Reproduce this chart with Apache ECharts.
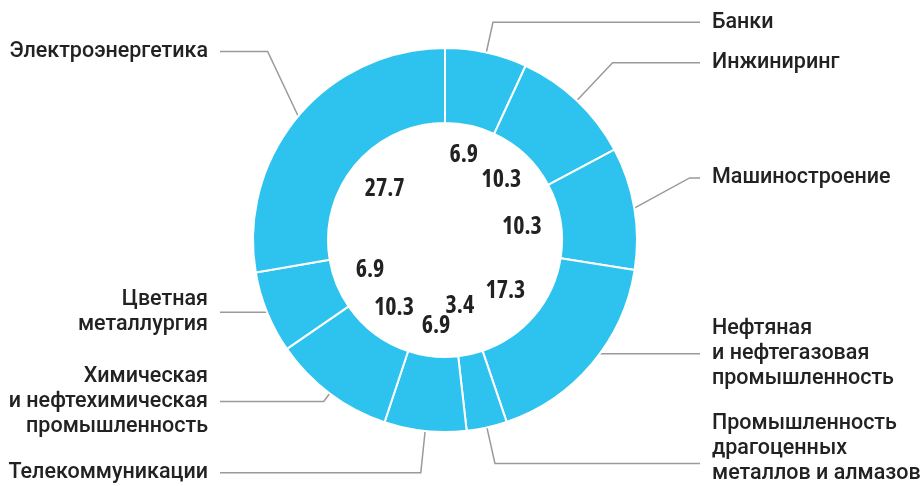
<!DOCTYPE html>
<html>
<head>
<meta charset="utf-8">
<script src="https://cdn.jsdelivr.net/npm/echarts@6/dist/echarts.min.js"></script>
<style>
html,body{margin:0;padding:0;background:#fff;}
#c{width:921px;height:486px;}
</style>
</head>
<body>
<div id="c"></div>
<script>
var categories = [
  'Банки',
  'Инжиниринг',
  'Машиностроение',
  'Нефтяная\nи нефтегазовая\nпромышленность',
  'Промышленность\nдрагоценных\nметаллов и алмазов',
  'Телекоммуникации',
  'Химическая\nи нефтехимическая\nпромышленность',
  'Цветная\nметаллургия',
  'Электроэнергетика'
];
var values = [6.9, 10.3, 10.3, 17.3, 3.4, 6.9, 10.3, 6.9, 27.7];

// label styling per slice: radial leader length, elbow lift, text shift, value-label radius
var leaderLen  = [31, 52, 56, 3, 37, 42, 10, 0, 40];
var leaderLift = [0, 0, -21, -12, 0, 0, 0, 0, -39];
var textShift  = [0, 0, 0, 0, -15, 0, 0, 0, 0];
var valueRad   = [87, 82, 78, 79, 68, 87, 85, 81, 79];

var CX = 445, CY = 240;

var outerData = categories.map(function (c, i) {
  return { name: c, value: values[i], labelLine: { length: leaderLen[i], length2: 10 } };
});
var valueData = categories.map(function (c, i) { return { name: c, value: values[i] }; });

var chart = echarts.init(document.getElementById('c'));
chart.setOption({
  animation: false,
  series: [
    {
      type: 'pie',
      center: [CX, CY],
      radius: [117, 192],
      startAngle: 90,
      clockwise: true,
      avoidLabelOverlap: false,
      itemStyle: { color: '#2dc3ee', borderColor: '#ffffff', borderWidth: 2 },
      label: {
        show: true,
        position: 'outside',
        formatter: '{b}',
        color: '#222222',
        fontFamily: 'Roboto',
        fontWeight: 500,
        fontSize: 21.5,
        lineHeight: 25
      },
      labelLine: {
        show: true,
        length: 30,
        length2: 10,
        lineStyle: { color: '#9a9a9a', width: 1.5 }
      },
      labelLayout: function (p) {
        var pts = p.labelLinePoints;
        if (!pts) return {};
        var i = p.dataIndex;
        var right = pts[2][0] >= pts[1][0];
        var ey = pts[1][1] + leaderLift[i];
        var endX = right ? CX + 255 : CX - 225;
        return {
          x: right ? endX + 12 : endX - 12,
          y: ey + textShift[i],
          align: right ? 'left' : 'right',
          verticalAlign: 'middle',
          labelLinePoints: [pts[0], [pts[1][0], ey], [endX, ey]]
        };
      },
      emphasis: { disabled: true },
      data: outerData
    },
    {
      type: 'pie',
      center: [CX, CY],
      radius: [60, 100],
      startAngle: 90,
      clockwise: true,
      silent: true,
      minShowLabelAngle: 0,
      itemStyle: { color: 'rgba(0,0,0,0)' },
      label: {
        show: true,
        position: 'inside',
        formatter: function (p) { return p.value.toFixed(1); },
        color: '#222222',
        fontFamily: 'Open Sans',
        fontWeight: 'bold condensed',
        fontSize: 24
      },
      labelLayout: function (p) {
        var r = p.labelRect;
        var mx = r.x + r.width / 2, my = r.y + r.height / 2;
        var dx = mx - CX, dy = my - CY;
        var d = Math.sqrt(dx * dx + dy * dy) || 1;
        var k = valueRad[p.dataIndex] / d;
        return {
          x: CX + dx * k,
          y: CY + dy * k,
          align: 'center',
          verticalAlign: 'middle',
          hideOverlap: false
        };
      },
      labelLine: { show: false },
      emphasis: { disabled: true },
      data: valueData
    }
  ]
});
</script>
</body>
</html>
